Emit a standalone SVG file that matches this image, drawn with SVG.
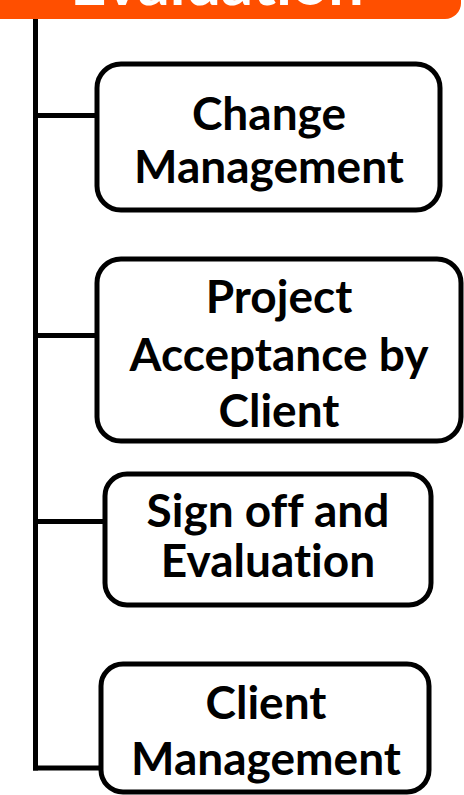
<svg xmlns="http://www.w3.org/2000/svg" width="464" height="795" viewBox="0 0 464 795">
<style>
.box{fill:#fff;stroke:#000;stroke-width:5}
.lbl{font-family:Lato,"Open Sans","Liberation Sans",sans-serif;font-weight:bold;font-size:46px;fill:#000;text-anchor:middle;font-variant-ligatures:none}
.hdr{font-family:Lato,"Open Sans","Liberation Sans",sans-serif;font-weight:bold;font-size:63px;fill:#fff;text-anchor:middle;font-variant-ligatures:none}
.conn{stroke:#000;stroke-width:5;fill:none}
</style>
<g id="header">
<rect x="-30" y="-40" width="491" height="59" rx="16" fill="#FF4F00"/>
<text class="hdr" x="217" y="5">Evaluation</text>
</g>
<g id="connectors">
<line class="conn" x1="35.5" y1="19" x2="35.5" y2="770.5"/>
<line class="conn" x1="33" y1="115.5" x2="97" y2="115.5"/>
<line class="conn" x1="33" y1="335.5" x2="97" y2="335.5"/>
<line class="conn" x1="33" y1="521.5" x2="105" y2="521.5"/>
<line class="conn" x1="33" y1="768" x2="101" y2="768"/>
</g>
<g id="n1">
<rect class="box" x="97" y="64" width="343" height="146" rx="24"/>
<text class="lbl" x="269" y="130">Change</text>
<text class="lbl" x="269" y="183">Management</text>
</g>
<g id="n2">
<rect class="box" x="97" y="259" width="364" height="182" rx="24"/>
<text class="lbl" x="279" y="313">Project</text>
<text class="lbl" x="279" y="371">Acceptance by</text>
<text class="lbl" x="279" y="427">Client</text>
</g>
<g id="n3">
<rect class="box" x="105" y="474" width="326" height="131" rx="22"/>
<text class="lbl" x="268" y="527">Sign off and</text>
<text class="lbl" x="268" y="577">Evaluation</text>
</g>
<g id="n4">
<rect class="box" x="101" y="664" width="328" height="128" rx="22"/>
<text class="lbl" x="266" y="719">Client</text>
<text class="lbl" x="266" y="775">Management</text>
</g>
</svg>
